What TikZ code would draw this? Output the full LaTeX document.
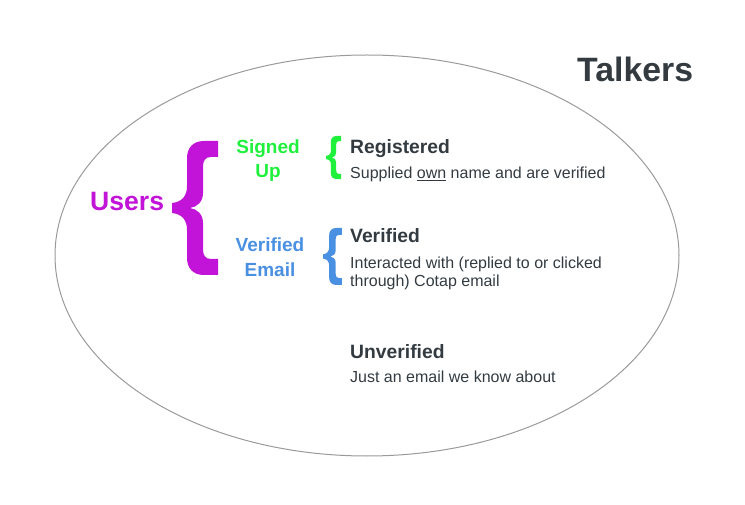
\documentclass[tikz,border=0pt]{standalone}
\usepackage{fontspec}
\usetikzlibrary{shapes.geometric}
\setmainfont{Liberation Sans}
\definecolor{dark}{HTML}{333B41}
\definecolor{upurple}{HTML}{C214D8}
\definecolor{ugreen}{HTML}{1EF03C}
\definecolor{ublue}{HTML}{4A90E2}
\definecolor{ring}{HTML}{9A9A9A}
\tikzset{
  curlybrace/.pic={
    \fill (46,0) -- (46,16) -- (39,16) .. controls (33,16) and (31,20) .. (31,26)
      -- (31,52) .. controls (31,61) and (25,66) .. (18,67)
      .. controls (25,68) and (31,73) .. (31,82)
      -- (31,108) .. controls (31,114) and (33,118) .. (39,118)
      -- (46,118) -- (46,134) -- (32,134) .. controls (21,134) and (15,127) .. (15,117)
      -- (15,89) .. controls (15,79) and (10,73) .. (0,72)
      -- (0,62) .. controls (10,61) and (15,55) .. (15,45)
      -- (15,17) .. controls (15,7) and (21,0) .. (32,0) -- cycle;
  },
  txt/.style={inner sep=0pt, anchor=base west, text=dark},
  head/.style={txt, font=\fontsize{19.3}{24}\selectfont\bfseries},
  body/.style={txt, font=\fontsize{16}{18}\selectfont},
  grp/.style={inner sep=0pt, anchor=base, font=\fontsize{19}{24}\selectfont\bfseries},
}
\begin{document}
\begin{tikzpicture}[x=1pt,y=-1pt]
\useasboundingbox (0,0) rectangle (745,505);
\node[draw=ring, line width=1pt, ellipse, minimum width=624pt, minimum height=401pt, inner sep=0pt] (ring) at (367,255.5) {};
\node[txt, font=\fontsize{33.8}{36}\selectfont\bfseries] (talkers) at (577,82) {Talkers};
\node[grp, anchor=base west, text=upurple, font=\fontsize{26.6}{30}\selectfont\bfseries] (users) at (90,211) {Users};
\pic[upurple] (bigbrace) at (172,141) {curlybrace};
\node[grp, text=ugreen] (signed) at (268,154) {Signed};
\node[grp, text=ugreen] (up) at (268,178) {Up};
\node[grp, text=ublue] (verif) at (270,252) {Verified};
\node[grp, text=ublue] (email) at (270,277) {Email};
\pic[ugreen, xscale=0.33, yscale=0.321] (gbrace) at (326,136) {curlybrace};
\pic[ublue, xscale=0.41, yscale=0.425] (bbrace) at (323,228) {curlybrace};
\node[head] (reg) at (350,154) {Registered};
\node[body] (regd) at (350,178.5) {Supplied \underline{own} name and are verified};
\node[head] (ver) at (350,243) {Verified};
\node[body] (verd1) at (350,268.5) {Interacted with (replied to or clicked};
\node[body] (verd2) at (350,286.5) {through) Cotap email};
\node[head] (unv) at (350,359) {Unverified};
\node[body] (unvd) at (350,382.5) {Just an email we know about};
\end{tikzpicture}
\end{document}
